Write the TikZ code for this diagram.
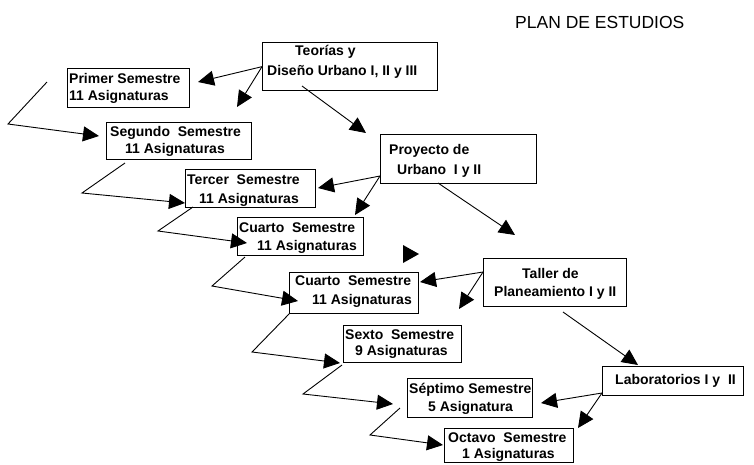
\documentclass[tikz,border=0pt]{standalone}
\usepackage{fontspec}
\setmainfont{Liberation Sans}
\usetikzlibrary{arrows.meta}
\begin{document}
\begin{tikzpicture}[x=1pt,y=-1pt,
  box/.style={draw, line width=1.3pt, anchor=north west, inner sep=0pt},
  lbl/.style={anchor=west, inner sep=0pt, font=\bfseries\fontsize{14}{16}\selectfont},
  con/.style={line width=0.9pt, -{Triangle[length=16pt,width=15pt]}},
]
\useasboundingbox (0,0) rectangle (754,464);

% title
\node[anchor=west, inner sep=0pt, font=\fontsize{17.5}{20}\selectfont] (title) at (515,22) {PLAN DE ESTUDIOS};

% boxes
\node[box, minimum width=175pt, minimum height=48pt] (teo) at (262,42) {};
\node[box, minimum width=122pt, minimum height=39pt] (s1) at (67,68) {};
\node[box, minimum width=145pt, minimum height=37pt] (s2) at (106,122) {};
\node[box, minimum width=130pt, minimum height=38pt] (s3) at (185,169) {};
\node[box, minimum width=126pt, minimum height=38pt] (s4) at (237,217) {};
\node[box, minimum width=129pt, minimum height=41pt] (s5) at (289,272) {};
\node[box, minimum width=118pt, minimum height=37pt] (s6) at (343,325) {};
\node[box, minimum width=125pt, minimum height=39pt] (s7) at (407,378) {};
\node[box, minimum width=129pt, minimum height=34pt] (s8) at (444,428) {};
\node[box, minimum width=156pt, minimum height=49pt] (pro) at (380,134) {};
\node[box, minimum width=143pt, minimum height=48pt] (tal) at (483,258) {};
\node[box, minimum width=141pt, minimum height=29pt] (lab) at (602,366) {};

% texts
\node[lbl] (teoa) at (295,52) {Teorías y};
\node[lbl] (teob) at (267,72) {Diseño Urbano I, II y III};
\node[lbl] (s1a) at (69,78) {Primer Semestre};
\node[lbl] (s1b) at (69,97) {11 Asignaturas};
\node[lbl] (s2a) at (110,133) {Segundo\ \ Semestre};
\node[lbl] (s2b) at (125,150) {11 Asignaturas};
\node[lbl] (s3a) at (187,180) {Tercer\ \ Semestre};
\node[lbl] (s3b) at (199,200) {11 Asignaturas};
\node[lbl] (s4a) at (239,228) {Cuarto\ \ Semestre};
\node[lbl] (s4b) at (257,247) {11 Asignaturas};
\node[lbl] (s5a) at (295,281) {Cuarto\ \ Semestre};
\node[lbl] (s5b) at (312,301) {11 Asignaturas};
\node[lbl] (s6a) at (345,335) {Sexto\ \ Semestre};
\node[lbl] (s6b) at (355,352) {9 Asignaturas};
\node[lbl] (s7a) at (409,390) {Séptimo Semestre};
\node[lbl] (s7b) at (428,408) {5 Asignatura};
\node[lbl] (s8a) at (448,438) {Octavo\ \ Semestre};
\node[lbl] (s8b) at (462,455) {1 Asignaturas};
\node[lbl] (proa) at (389,151) {Proyecto de};
\node[lbl] (prob) at (397,171) {Urbano\ \ I y II};
\node[lbl] (tala) at (522,273) {Taller de};
\node[lbl] (talb) at (494,293) {Planeamiento I y II};
\node[lbl] (laba) at (615,381) {Laboratorios I y\ \ II};

% connector end points
\coordinate (a1) at (198,82);
\coordinate (b1) at (237,107);
\coordinate (c0) at (302,86);
\coordinate (c1) at (366,133);
\coordinate (d0) at (47,82);
\coordinate (d1) at (8,124);
\coordinate (d2) at (99,136);
\coordinate (e0) at (125,163);
\coordinate (e1) at (82,193);
\coordinate (e2) at (185,203);
\coordinate (f0) at (193,207);
\coordinate (f1) at (158,231);
\coordinate (f2) at (247,243);
\coordinate (g0) at (380,176);
\coordinate (g1) at (318,188);
\coordinate (h1) at (355,215);
\coordinate (i0) at (438,183);
\coordinate (i1) at (515,235);
\coordinate (j0) at (245,257);
\coordinate (j1) at (212,286);
\coordinate (j2) at (298,301);
\coordinate (l0) at (483,272);
\coordinate (l1) at (420,282);
\coordinate (m1) at (459,309);
\coordinate (n0) at (290,313);
\coordinate (n1) at (252,352);
\coordinate (n2) at (340,363);
\coordinate (o0) at (342,365);
\coordinate (o1) at (303,394);
\coordinate (o2) at (393,404);
\coordinate (p0) at (400,408);
\coordinate (p1) at (370,435);
\coordinate (p2) at (443,445);
\coordinate (q0) at (563,312);
\coordinate (q1) at (638,365);
\coordinate (r0) at (602,393);
\coordinate (r1) at (541,403);
\coordinate (s1t) at (578,428);

% connectors
\draw[con] (teo.west) -- (a1);
\draw[con] (teo.west) -- (b1);
\draw[con] (c0) -- (c1);
\draw[con] (d0) -- (d1) -- (d2);
\draw[con] (e0) -- (e1) -- (e2);
\draw[con] (f0) -- (f1) -- (f2);
\draw[con] (g0) -- (g1);
\draw[con] (g0) -- (h1);
\draw[con] (i0) -- (i1);
\draw[con] (j0) -- (j1) -- (j2);
\draw[con] (l0) -- (l1);
\draw[con] (l0) -- (m1);
\draw[con] (n0) -- (n1) -- (n2);
\draw[con] (o0) -- (o1) -- (o2);
\draw[con] (p0) -- (p1) -- (p2);
\draw[con] (q0) -- (q1);
\draw[con] (r0) -- (r1);
\draw[con] (r0) -- (s1t);

% isolated arrowhead
\fill (403,245) -- (419,254) -- (403,263) -- cycle;
\end{tikzpicture}
\end{document}
